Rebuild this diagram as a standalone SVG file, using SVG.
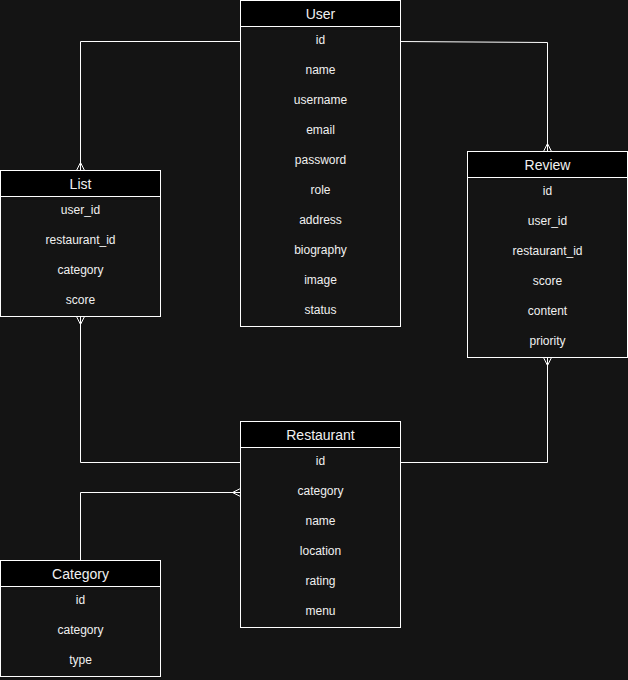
<svg xmlns="http://www.w3.org/2000/svg" width="628" height="680" viewBox="0 0 628 680">
  <style>
    .box { fill: #141414; stroke: #ffffff; stroke-width: 1; }
    .head { fill: #000000; stroke: #ffffff; stroke-width: 1; }
    .title { font-family: "Liberation Sans", Arial, sans-serif; font-size: 14px; fill: #f0f0f0; text-anchor: middle; }
    .row { font-family: "Liberation Sans", Arial, sans-serif; font-size: 12px; fill: #f0f0f0; text-anchor: middle; }
    .edge { fill: none; stroke: #ffffff; stroke-width: 1; }
  </style>
  <rect x="0" y="0" width="628" height="680" fill="#141414"/>

  <g id="connectors">
    <!-- User -> List -->
    <path class="edge" d="M240.5 41.5 H80.5 V170.5"/>
    <path class="edge" d="M80.5 162.5 L76.5 170.5 M80.5 162.5 L84.5 170.5"/>
    <!-- User -> Review -->
    <path class="edge" d="M400.5 41.5 L547.5 42.5 V151.5"/>
    <path class="edge" d="M547.5 143.5 L543.5 151.5 M547.5 143.5 L551.5 151.5"/>
    <!-- List -> Restaurant -->
    <path class="edge" d="M80.5 316.5 V462.5 H240.5"/>
    <path class="edge" d="M80.5 324.5 L76.5 316.5 M80.5 324.5 L84.5 316.5"/>
    <!-- Review -> Restaurant -->
    <path class="edge" d="M547.5 357.5 V462.5 H400.5"/>
    <path class="edge" d="M547.5 365.5 L543.5 357.5 M547.5 365.5 L551.5 357.5"/>
    <!-- Category -> Restaurant -->
    <path class="edge" d="M80.5 560.5 V492.5 H240.5"/>
    <path class="edge" d="M232.5 492.5 L240.5 488.5 M232.5 492.5 L240.5 496.5"/>
  </g>

  <g id="user">
    <rect class="box" x="240.5" y="0.5" width="160" height="326"/>
    <rect class="head" x="240.5" y="0.5" width="160" height="26"/>
    <text class="title" x="320.5" y="19">User</text>
    <text class="row" x="320.5" y="44">id</text>
    <text class="row" x="320.5" y="74">name</text>
    <text class="row" x="320.5" y="104">username</text>
    <text class="row" x="320.5" y="134">email</text>
    <text class="row" x="320.5" y="164">password</text>
    <text class="row" x="320.5" y="194">role</text>
    <text class="row" x="320.5" y="224">address</text>
    <text class="row" x="320.5" y="254">biography</text>
    <text class="row" x="320.5" y="284">image</text>
    <text class="row" x="320.5" y="314">status</text>
  </g>

  <g id="list">
    <rect class="box" x="0.5" y="170.5" width="160" height="146"/>
    <rect class="head" x="0.5" y="170.5" width="160" height="26"/>
    <text class="title" x="80.5" y="189">List</text>
    <text class="row" x="80.5" y="214">user_id</text>
    <text class="row" x="80.5" y="244">restaurant_id</text>
    <text class="row" x="80.5" y="274">category</text>
    <text class="row" x="80.5" y="304">score</text>
  </g>

  <g id="review">
    <rect class="box" x="467.5" y="151.5" width="160" height="206"/>
    <rect class="head" x="467.5" y="151.5" width="160" height="26"/>
    <text class="title" x="547.5" y="170">Review</text>
    <text class="row" x="547.5" y="195">id</text>
    <text class="row" x="547.5" y="225">user_id</text>
    <text class="row" x="547.5" y="255">restaurant_id</text>
    <text class="row" x="547.5" y="285">score</text>
    <text class="row" x="547.5" y="315">content</text>
    <text class="row" x="547.5" y="345">priority</text>
  </g>

  <g id="restaurant">
    <rect class="box" x="240.5" y="421.5" width="160" height="206"/>
    <rect class="head" x="240.5" y="421.5" width="160" height="26"/>
    <text class="title" x="320.5" y="440">Restaurant</text>
    <text class="row" x="320.5" y="465">id</text>
    <text class="row" x="320.5" y="495">category</text>
    <text class="row" x="320.5" y="525">name</text>
    <text class="row" x="320.5" y="555">location</text>
    <text class="row" x="320.5" y="585">rating</text>
    <text class="row" x="320.5" y="615">menu</text>
  </g>

  <g id="category">
    <rect class="box" x="0.5" y="560.5" width="160" height="116"/>
    <rect class="head" x="0.5" y="560.5" width="160" height="26"/>
    <text class="title" x="80.5" y="579">Category</text>
    <text class="row" x="80.5" y="604">id</text>
    <text class="row" x="80.5" y="634">category</text>
    <text class="row" x="80.5" y="664">type</text>
  </g>
</svg>
